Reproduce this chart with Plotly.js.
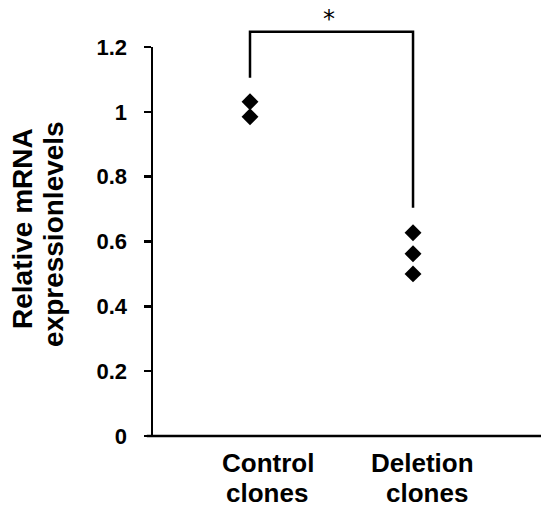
<!DOCTYPE html>
<html><head><meta charset="utf-8">
<script src="https://cdn.plot.ly/plotly-3.0.1.min.js"></script>
<style>html,body{margin:0;padding:0;background:#fff}</style>
</head><body><div id="chart" style="width:541px;height:512px"></div>
<script>
const categoryLine1 = ["Control", "Deletion"];
const categoryLine2 = ["clones", "clones"];
const groupIndex = [0, 1];
const controlValues = [1.031, 0.985];
const deletionValues = [0.627, 0.562, 0.5];
const yTicks = [0, 0.2, 0.4, 0.6, 0.8, 1, 1.2];
const yTickText = ["0", "0.2", "0.4", "0.6", "0.8", "1", "1.2"];
const yTitleLines = ["Relative mRNA", "expressionlevels"];
const yMax = 1.2;
const bracketTop = 1.247;
const bracketLeftEnd = 1.105;
const bracketRightEnd = 0.704;
const sigLabel = "*";

const xs = [], ys = [];
controlValues.forEach(v => { xs.push(groupIndex[0]); ys.push(v); });
deletionValues.forEach(v => { xs.push(groupIndex[1]); ys.push(v); });

const trace = {
  x: xs, y: ys, type: 'scatter', mode: 'markers',
  marker: {symbol: 'diamond', size: 13, color: '#000'},
  cliponaxis: false, hoverinfo: 'skip'
};
const p = v => v / yMax;
const lineStyle = {color: '#000', width: 2.5};
const boldFont = (size) => ({family: 'Liberation Sans, Arial, sans-serif', size: size, color: '#000', weight: 'bold'});

const annotations = [];
// significance star
annotations.push({x: (groupIndex[0] + groupIndex[1]) / 2, y: p(bracketTop), xref: 'x', yref: 'paper',
  text: sigLabel, showarrow: false, yanchor: 'bottom', yshift: -3, xshift: -3,
  font: {size: 24, color: '#000', family: 'DejaVu Sans, sans-serif'}});
// category labels (two tight lines)
const line1Shift = [18, 9], line2Shift = [17, 14];
groupIndex.forEach((g, i) => {
  annotations.push({x: g, y: 0, xref: 'x', yref: 'paper', text: categoryLine1[i], showarrow: false,
    xanchor: 'center', yanchor: 'middle', xshift: line1Shift[i], yshift: -27, font: boldFont(26)});
  annotations.push({x: g, y: 0, xref: 'x', yref: 'paper', text: categoryLine2[i], showarrow: false,
    xanchor: 'center', yanchor: 'middle', xshift: line2Shift[i], yshift: -57, font: boldFont(26)});
});
// y-axis title lines
const titleX = [22, 53], titleY = [229, 234];
yTitleLines.forEach((t, i) => {
  annotations.push({x: 0, y: 0, xref: 'paper', yref: 'paper', text: t, showarrow: false, textangle: -90,
    xanchor: 'center', yanchor: 'middle', xshift: titleX[i] - 153, yshift: 436 - titleY[i], font: boldFont(28)});
});

const layout = {
  width: 541, height: 512,
  margin: {l: 153, r: 0, t: 47, b: 76},
  paper_bgcolor: '#fff', plot_bgcolor: '#fff',
  showlegend: false,
  font: {family: 'Liberation Sans, Arial, sans-serif', color: '#000'},
  xaxis: {
    range: [-0.595, 1.785], tickvals: groupIndex, showticklabels: false,
    ticks: '', showgrid: false, zeroline: false, showline: false
  },
  yaxis: {
    range: [0, yMax], tickvals: yTicks, ticktext: yTickText,
    ticks: 'outside', ticklen: 7, tickwidth: 2.5, tickcolor: '#000',
    showline: true, linewidth: 2.5, linecolor: '#000',
    showgrid: false, zeroline: false, ticklabelstandoff: 12,
    tickfont: boldFont(22)
  },
  shapes: [
    {type: 'line', xref: 'paper', yref: 'paper', x0: -0.016, x1: 1, y0: 0, y1: 0, line: lineStyle},
    {type: 'path', xref: 'x', yref: 'paper',
     path: `M ${groupIndex[0]} ${p(bracketLeftEnd)} L ${groupIndex[0]} ${p(bracketTop)} L ${groupIndex[1]} ${p(bracketTop)} L ${groupIndex[1]} ${p(bracketRightEnd)}`,
     line: lineStyle}
  ],
  annotations: annotations
};
Plotly.newPlot('chart', [trace], layout, {displayModeBar: false, staticPlot: true});
</script></body></html>
